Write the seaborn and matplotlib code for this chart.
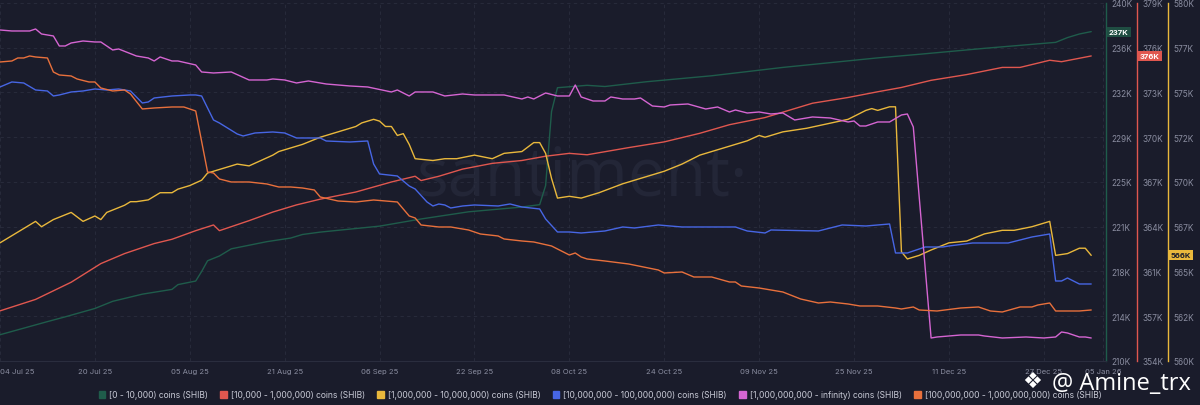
import pandas as pd
import numpy as np
import matplotlib
matplotlib.use("Agg")
import matplotlib.pyplot as plt
import matplotlib.patches as mpatches
import matplotlib.transforms as mtrans
import seaborn as sns

sns.set_style("dark")
plt.rcParams["font.family"] = ["Inter", "DejaVu Sans"]

start = pd.Timestamp("2025-07-04")

# holders per bucket, thousands; x = days since 04 Jul 25
green_days = [0, 8, 11, 16, 19, 24, 29, 30, 33, 34, 35, 37, 39, 42, 45, 49, 51, 54, 64, 71, 79, 88, 91,
              92, 93, 94, 99, 102, 109, 120, 132, 148, 155, 166, 178, 180, 182, 184]
green_vals = [212.2, 213.3, 213.7, 214.4, 215.0, 215.6, 216.0, 216.4, 216.7, 217.5, 218.4, 218.8, 219.4,
              219.7, 220.0, 220.3, 220.6, 220.8, 221.3, 221.9, 222.5, 222.9, 223.1, 224.7, 230.9, 232.9,
              233.1, 233.0, 233.4, 233.9, 234.6, 235.4, 235.7, 236.2, 236.7, 237.1, 237.4, 237.6]

red_days = [0, 6, 12, 17, 21, 26, 29, 33, 36, 37, 42, 46, 50, 54, 60, 66, 70, 71, 74, 78, 83, 88, 92, 96,
            99, 106, 112, 118, 123, 129, 137, 143, 148, 152, 157, 163, 169, 172, 177, 179, 184]
red_vals = [357.5, 358.3, 359.5, 360.8, 361.5, 362.2, 362.5, 363.1, 363.5, 363.1, 363.8, 364.4, 364.9,
            365.3, 365.8, 366.5, 366.9, 366.6, 366.9, 367.4, 367.8, 368.0, 368.3, 368.5, 368.4, 368.9,
            369.3, 369.9, 370.5, 371.0, 372.0, 372.4, 372.8, 373.1, 373.6, 374.0, 374.5, 374.5, 375.0,
            374.9, 375.3]

yellow_days = [0, 3, 6, 7, 9, 12, 14, 16, 17, 18, 21, 22, 23, 25, 27, 29, 30, 32, 34, 35, 37, 38, 40, 42,
               44, 46, 47, 49, 51, 54, 57, 60, 61, 63, 64, 65, 66, 67, 68, 69, 70, 73, 75, 77, 80, 83, 85,
               88, 90, 91, 92, 93, 94, 96, 98, 101, 105, 109, 112, 115, 118, 120, 123, 126, 128, 129, 132,
               136, 143, 146, 147, 148, 150, 151, 152, 153, 155, 157, 160, 163, 166, 169, 171, 174, 177,
               178, 180, 182, 183, 184]
yellow_vals = [566.6, 567.2, 567.8, 567.5, 567.9, 568.3, 567.8, 568.1, 567.9, 568.3, 568.7, 568.9, 568.9,
               569.0, 569.4, 569.4, 569.6, 569.8, 570.1, 570.5, 570.7, 570.8, 571.0, 570.9, 571.2, 571.5,
               571.7, 571.9, 572.1, 572.5, 572.8, 573.1, 573.3, 573.5, 573.4, 573.1, 573.1, 572.6, 572.7,
               572.1, 571.3, 571.2, 571.3, 571.3, 571.5, 571.3, 571.6, 571.7, 572.2, 572.2, 571.6, 570.2,
               569.1, 569.2, 569.1, 569.4, 569.9, 570.3, 570.6, 571.0, 571.5, 571.7, 572.0, 572.3, 572.6,
               572.5, 572.8, 573.0, 573.5, 574.0, 574.1, 574.0, 574.2, 574.2, 566.1, 565.7, 565.9, 566.2,
               566.6, 566.7, 567.1, 567.3, 567.3, 567.5, 567.8, 565.9, 566.0, 566.3, 566.3, 565.9]

blue_days = [0, 2, 4, 6, 8, 9, 10, 12, 14, 16, 18, 20, 22, 23, 24, 25, 26, 29, 32, 33, 34, 36, 37, 40, 41,
             43, 46, 48, 50, 51, 54, 55, 59, 62, 63, 64, 67, 69, 70, 72, 73, 74, 75, 76, 78, 80, 84, 86,
             88, 91, 92, 94, 96, 98, 102, 105, 107, 111, 115, 124, 126, 129, 130, 138, 142, 146, 150,
             151, 153, 156, 159, 160, 164, 170, 172, 174, 177, 178, 179, 180, 182, 184]
blue_vals = [127.4, 127.9, 127.8, 127.1, 127.0, 126.5, 126.6, 126.9, 127.0, 127.2, 127.1, 127.2, 127.0,
             126.4, 125.8, 125.9, 126.3, 126.5, 126.6, 126.6, 126.5, 124.1, 123.8, 122.7, 122.5, 122.8,
             122.9, 122.8, 122.3, 122.3, 122.3, 122.0, 121.9, 122.0, 119.7, 118.7, 118.5, 117.5, 117.2,
             115.9, 115.5, 115.7, 115.6, 115.3, 115.5, 115.6, 115.5, 115.7, 115.4, 115.2, 114.2, 112.9,
             112.9, 112.8, 113.0, 113.4, 113.3, 113.6, 113.4, 113.4, 113.0, 112.8, 113.1, 113.0, 113.6,
             113.5, 113.7, 110.8, 110.8, 111.4, 111.4, 111.5, 111.8, 111.8, 112.1, 112.4, 112.7, 108.0,
             108.0, 108.3, 107.7, 107.7]

pink_days = [0, 2, 5, 6, 7, 9, 10, 11, 12, 14, 16, 17, 19, 20, 23, 25, 26, 27, 29, 30, 33, 34, 36, 39, 42,
             45, 46, 48, 50, 52, 55, 59, 62, 66, 67, 69, 70, 73, 75, 78, 80, 85, 88, 89, 90, 92, 94, 96,
             97, 98, 100, 102, 103, 105, 107, 108, 110, 112, 113, 116, 119, 121, 123, 124, 126, 128, 130,
             132, 134, 137, 140, 143, 144, 145, 146, 148, 150, 152, 153, 154, 157, 158, 162, 165, 166,
             169, 173, 176, 178, 179, 180, 182, 183, 184]
pink_vals = [7.31, 7.30, 7.30, 7.32, 7.27, 7.25, 7.15, 7.15, 7.18, 7.20, 7.19, 7.19, 7.11, 7.12, 7.05, 7.03,
             7.00, 7.04, 7.00, 7.00, 6.96, 6.89, 6.88, 6.89, 6.81, 6.81, 6.82, 6.81, 6.78, 6.80, 6.77, 6.75,
             6.74, 6.69, 6.71, 6.65, 6.69, 6.69, 6.65, 6.67, 6.66, 6.66, 6.62, 6.64, 6.62, 6.68, 6.65, 6.65,
             6.76, 6.64, 6.60, 6.60, 6.64, 6.62, 6.62, 6.63, 6.55, 6.54, 6.56, 6.57, 6.52, 6.54, 6.49, 6.51,
             6.48, 6.49, 6.47, 6.48, 6.41, 6.44, 6.43, 6.39, 6.40, 6.35, 6.35, 6.39, 6.39, 6.46, 6.47, 6.34,
             4.23, 4.24, 4.26, 4.26, 4.25, 4.23, 4.24, 4.23, 4.24, 4.29, 4.28, 4.24, 4.24, 4.23]

orange_days = [0, 2, 3, 4, 5, 6, 8, 9, 10, 12, 13, 15, 16, 17, 19, 21, 22, 24, 26, 29, 31, 33, 35, 36, 37,
               39, 42, 45, 47, 49, 51, 53, 54, 57, 60, 63, 67, 69, 70, 71, 74, 76, 79, 81, 84, 85, 88, 90,
               93, 95, 96, 97, 98, 99, 102, 106, 111, 112, 115, 117, 120, 123, 124, 125, 128, 132, 135,
               138, 140, 143, 145, 148, 151, 152, 154, 155, 158, 162, 165, 167, 169, 172, 174, 175, 177,
               178, 180, 182, 184]
orange_vals = [49.9, 50.0, 50.3, 50.3, 50.5, 50.4, 50.3, 48.9, 48.6, 48.5, 48.2, 47.9, 47.9, 47.3, 47.0,
               47.1, 46.7, 45.2, 45.3, 45.4, 45.4, 45.0, 38.9, 38.8, 38.2, 37.9, 37.9, 37.7, 37.4, 37.4,
               37.3, 37.1, 36.4, 36.0, 35.9, 36.1, 35.9, 34.5, 34.3, 33.6, 33.4, 33.4, 33.1, 32.7, 32.5,
               32.2, 32.0, 31.9, 31.5, 30.9, 30.6, 30.8, 30.4, 30.2, 30.0, 29.7, 29.1, 28.8, 28.9, 28.4,
               28.4, 27.9, 27.9, 27.5, 27.3, 26.9, 26.2, 25.8, 25.9, 25.7, 25.5, 25.5, 25.3, 25.2, 25.4,
               25.1, 25.0, 25.3, 25.4, 25.0, 24.9, 25.4, 25.4, 25.6, 25.8, 25.0, 25.0, 25.0, 25.1]

labels = ["[0 - 10,000) coins (SHIB)", "[10,000 - 1,000,000) coins (SHIB)",
          "[1,000,000 - 10,000,000) coins (SHIB)", "[10,000,000 - 100,000,000) coins (SHIB)",
          "[1,000,000,000 - infinity) coins (SHIB)", "[100,000,000 - 1,000,000,000) coins (SHIB)"]
colors = ["#1f5c4b", "#e0574f", "#e9b83c", "#4766e4", "#d565d2", "#e8703c"]

green_ticks = ["210K", "214K", "218K", "221K", "225K", "229K", "232K", "236K", "240K"]
red_ticks = ["354K", "357K", "361K", "364K", "367K", "370K", "373K", "376K", "379K"]
yellow_ticks = ["560K", "562K", "565K", "567K", "570K", "572K", "575K", "577K", "580K"]
last_labels = ["237K", "376K", "566K"]

bg = "#1a1c2b"
grid_c = "#2a2d3e"
tick_c = "#8a8da0"

fig = plt.figure(figsize=(12, 4.06), dpi=100, facecolor=bg)
ax = fig.add_axes([0.0, 0.1084, 0.9217, 0.8818])
ax.set_facecolor(bg)

# watermark behind the lines
ax.text(0.527, 0.466, "santiment·", transform=ax.transAxes, ha="center", va="baseline", fontsize=48,
        color="#232637", family=["Open Sans", "DejaVu Sans"], zorder=0)

ax2 = ax.twinx()
ax3 = ax.twinx()
axb = ax.twinx()
axp = ax.twinx()
axo = ax.twinx()

def frame(d, v):
    return pd.DataFrame({"date": start + pd.to_timedelta(d, unit="D"), "value": v})

series = [
    (ax, green_days, green_vals, (210, 240)),
    (ax2, red_days, red_vals, (354, 379)),
    (ax3, yellow_days, yellow_vals, (560, 580)),
    (axb, blue_days, blue_vals, (100.0, 135.8)),
    (axp, pink_days, pink_vals, (4.0, 7.58)),
    (axo, orange_days, orange_vals, (20.0, 55.8)),
]
for (a, d, v, lim), c in zip(series, colors):
    sns.lineplot(data=frame(d, v), x="date", y="value", ax=a, color=c, lw=1.0)
    a.set_ylim(*lim)
    a.set_xlabel("")
    a.set_ylabel("")

xmin = start
xmax = start + pd.Timedelta(days=186.5)
ax.set_xlim(xmin, xmax)

for a in (axb, axp, axo):
    a.set_axis_off()

# visible right-side axes
for a, ticks, pos, c in [(ax, green_ticks, 1.0, colors[0]),
                          (ax2, red_ticks, 1137 / 1106, colors[1]),
                          (ax3, yellow_ticks, 1168 / 1106, colors[2])]:
    lo, hi = a.get_ylim()
    a.yaxis.tick_right()
    a.set_yticks(np.linspace(lo, hi, 9))
    a.set_yticklabels(ticks)
    a.tick_params(axis="y", length=0, pad=4, labelsize=6, labelcolor=tick_c)
    for s in ("left", "top", "bottom"):
        a.spines[s].set_visible(False)
    a.spines["right"].set_position(("axes", pos))
    a.spines["right"].set_color(c)
    a.spines["right"].set_linewidth(1.0)
    a.spines["right"].set_visible(True)

ax.spines["bottom"].set_visible(True)
ax.spines["bottom"].set_color(grid_c)
ax.grid(True, axis="both", color=grid_c, ls=(0, (4, 4)), lw=0.6)

xt = [start + pd.Timedelta(days=16 * i) for i in range(12)] + [pd.Timestamp("2026-01-06")]
ax.set_xticks(xt)
ax.set_xticklabels([t.strftime("%d %b %y") for t in xt[:-1]] + ["05 Jan 26"])
ax.tick_params(axis="x", length=0, pad=5, labelsize=5.5, labelcolor=tick_c)
ax.get_xticklabels()[0].set_ha("left")

# last value tags
last_vals = [green_vals[-1], red_vals[-1], yellow_vals[-1]]
for a, pos, txt, v, c, tc in [(ax, 1.0, last_labels[0], last_vals[0], "#1f4d42", "white"),
                               (ax2, 1137 / 1106, last_labels[1], last_vals[1], "#e0574f", "white"),
                               (ax3, 1168 / 1106, last_labels[2], last_vals[2], "#e9b83c", "#1a1c2b")]:
    tr = mtrans.blended_transform_factory(a.transAxes, a.transData)
    a.text(pos + 3 / 1106, v, txt, transform=tr, ha="left", va="center", fontsize=5.5, color=tc,
           fontweight="bold", bbox=dict(boxstyle="square,pad=0.25", fc=c, ec="none"), zorder=10, clip_on=False)

handles = [mpatches.Patch(color=c) for c in colors]
fig.legend(handles, labels, loc="center", bbox_to_anchor=(0.5, 1 - 396 / 406), ncol=6, frameon=False,
           fontsize=6.1, handlelength=0.75, handleheight=0.75, handletextpad=0.45, columnspacing=1.5,
           labelcolor="#c8cad6")

# author watermark over the legend
fig.text(1032 / 1200, 1 - 382 / 406, "❖", ha="center", va="center", fontsize=16, color="white",
         family=["DejaVu Sans"])
fig.text(1052 / 1200, 1 - 384 / 406, "@ Amine_trx", ha="left", va="center", fontsize=17, color="white",
         family=["Open Sans", "DejaVu Sans"])

fig.savefig("out.png", dpi=100, facecolor=bg)
